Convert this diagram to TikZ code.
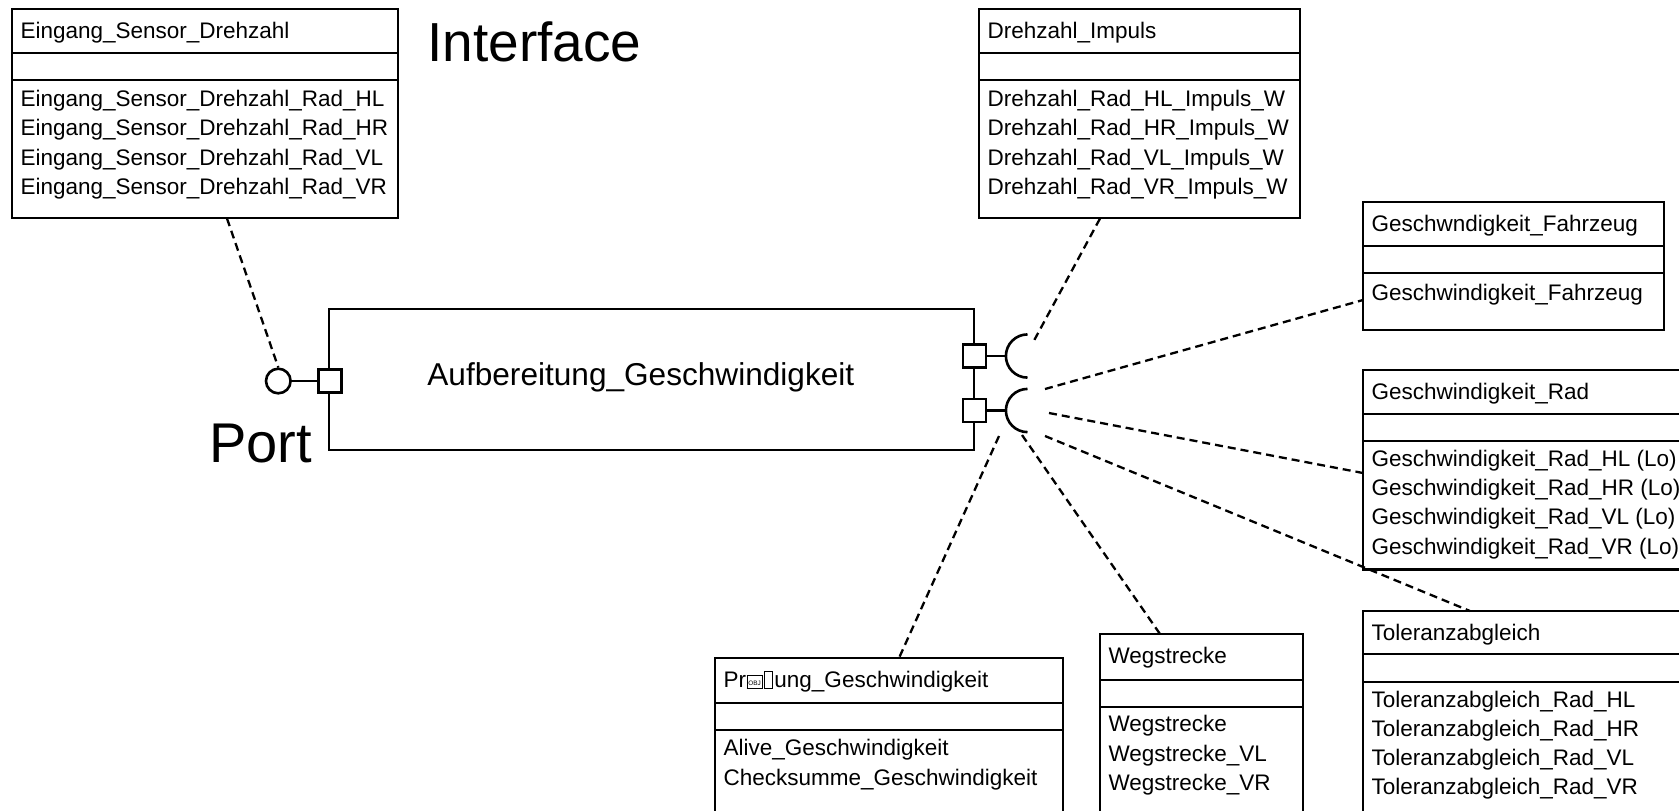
\documentclass[tikz,border=0pt]{standalone}
\usepackage{fontspec}
\setmainfont{Liberation Sans}
\newcommand\objglyph{{\fboxsep=0.6pt\fboxrule=0.3pt\hspace{0.3pt}\raisebox{1pt}{\fbox{\rule[-0.6pt]{0pt}{5pt}\fontsize{3.2}{3.5}\selectfont OBJ}}}}
\newcommand\tofu{{\fboxsep=0pt\fboxrule=0.4pt\hspace{0.8pt}\fbox{\rule{0pt}{7.8pt}\hspace{3.4pt}}\hspace{0.9pt}}}
\newcommand\ClassBox[8]{% name, x1, y1, x2, y2, line1, line2, title
  \node[cls, minimum width={0.5pt*(#4-#2)}, minimum height={0.5pt*(#5-#3)}] (#1) at (#2,#3) {};
  \draw[lw] (#2,#6) -- (#4,#6) (#2,#7) -- (#4,#7);
  \node[txt] (#1-title) at (#2+8.5,#3+29.5) {#8};
}
\tikzset{
  lw/.style={line width=1.3pt},
  cls/.style={draw, line width=1.3pt, anchor=north west, inner sep=0pt, outer sep=0pt},
  txt/.style={anchor=base west, inner sep=0pt, outer sep=0pt, font=\fontsize{11.25}{13}\selectfont},
  link/.style={line width=1.15pt, dash pattern=on 4pt off 2.5pt},
  portsq/.style={draw, line width=1.3pt, minimum size=11.5pt, inner sep=0pt, fill=white},
}
\begin{document}
\begin{tikzpicture}[x=0.5pt, y=-0.5pt]
\useasboundingbox (0,0) rectangle (1679,810);
\clip (0,0) rectangle (1679,810);

% interface classes
\ClassBox{ein}{12}{9}{398}{218}{53}{80}{Eingang\_Sensor\_Drehzahl}
\foreach \t [count=\i] in {Eingang\_Sensor\_Drehzahl\_Rad\_HL, Eingang\_Sensor\_Drehzahl\_Rad\_HR, Eingang\_Sensor\_Drehzahl\_Rad\_VL, Eingang\_Sensor\_Drehzahl\_Rad\_VR}
  \node[txt] (ein-r\i) at (20.5,{106.5+29.3*(\i-1)}) {\t};

\ClassBox{dreh}{979}{9}{1300}{218}{53}{80}{Drehzahl\_Impuls}
\foreach \t [count=\i] in {Drehzahl\_Rad\_HL\_Impuls\_W, Drehzahl\_Rad\_HR\_Impuls\_W, Drehzahl\_Rad\_VL\_Impuls\_W, Drehzahl\_Rad\_VR\_Impuls\_W}
  \node[txt] (dreh-r\i) at (987.5,{106.5+29.3*(\i-1)}) {\t};

\ClassBox{fzg}{1363}{202}{1664}{330}{246}{273}{Geschwndigkeit\_Fahrzeug}
\node[txt] (fzg-r1) at (1371.5,300) {Geschwindigkeit\_Fahrzeug};

\ClassBox{rad}{1363}{370}{1720}{569.5}{414}{441}{Geschwindigkeit\_Rad}
\foreach \t [count=\i] in {Geschwindigkeit\_Rad\_HL (Lo), Geschwindigkeit\_Rad\_HR (Lo), Geschwindigkeit\_Rad\_VL (Lo), Geschwindigkeit\_Rad\_VR (Lo)}
  \node[txt] (rad-r\i) at (1371.5,{466.5+29.2*(\i-1)}) {\t};

\ClassBox{tol}{1363}{611}{1720}{860}{654}{682}{Toleranzabgleich}
\foreach \t [count=\i] in {Toleranzabgleich\_Rad\_HL, Toleranzabgleich\_Rad\_HR, Toleranzabgleich\_Rad\_VL, Toleranzabgleich\_Rad\_VR}
  \node[txt] (tol-r\i) at (1371.5,{707+29.3*(\i-1)}) {\t};

\ClassBox{pruef}{715}{658}{1063}{860}{703}{730}{Pr\objglyph\tofu ung\_Geschwindigkeit}
\foreach \t [count=\i] in {Alive\_Geschwindigkeit, Checksumme\_Geschwindigkeit}
  \node[txt] (pruef-r\i) at (723.5,{755.5+29.5*(\i-1)}) {\t};

\ClassBox{weg}{1100}{634}{1303}{860}{680}{707}{Wegstrecke}
\foreach \t [count=\i] in {Wegstrecke, Wegstrecke\_VL, Wegstrecke\_VR}
  \node[txt] (weg-r\i) at (1108.5,{731.5+29.5*(\i-1)}) {\t};

% labels
\node[anchor=base west, inner sep=0pt, font=\fontsize{27.5}{30}\selectfont] (iflabel) at (427,61.7) {Interface};
\node[anchor=base west, inner sep=0pt, font=\fontsize{28}{30}\selectfont] (portlabel) at (209,462) {Port};

% component
\node[cls, minimum width={0.5pt*(974-329)}, minimum height={0.5pt*(450-309)}] (comp) at (329,309) {};
\node[anchor=base west, inner sep=0pt, font=\fontsize{15.8}{18}\selectfont] (compname) at (427,385) {Aufbereitung\_Geschwindigkeit};

% ports
\node[portsq] (pL) at (330,381) {};
\node[portsq] (pR1) at (974.5,356) {};
\node[portsq] (pR2) at (974.5,410.5) {};
\node[draw, circle, line width=1.3pt, minimum size=12.3pt, inner sep=0pt] (lolly) at (278.3,381) {};
\draw[lw] (lolly.east) -- (pL.west);

% sockets
\coordinate (sock1) at (1027.5,356);
\coordinate (sock2) at (1027.5,410.5);
\draw[lw] (pR1.east) -- ([xshift=-10.8pt]sock1);
\draw[lw] (pR2.east) -- ([xshift=-10.8pt]sock2);
\draw[lw] ([yshift=10.8pt]sock1) arc[start angle=90, end angle=270, radius=10.8pt];
\draw[lw] ([yshift=10.8pt]sock2) arc[start angle=90, end angle=270, radius=10.8pt];

% connector end points
\coordinate (ein-a) at (227,218.5);
\coordinate (dreh-a) at (1100,218.5);
\coordinate (fzg-a) at (1363,300);
\coordinate (rad-a) at (1363,473);
\coordinate (tol-a) at (1470,611);
\coordinate (weg-a) at (1160,634);
\coordinate (pruef-a) at (899,658);
\coordinate (s1-a) at (1034.3,340);
\coordinate (s2-fzg) at (1045,389);
\coordinate (s2-rad) at (1049,413);
\coordinate (s2-tol) at (1045,436);
\coordinate (s2-weg) at (1022,435);
\coordinate (s2-pruef) at (999,436);

\draw[link] (ein-a) -- (lolly.north);
\draw[link] (dreh-a) -- (s1-a);
\draw[link] (s2-fzg) -- (fzg-a);
\draw[link] (s2-rad) -- (rad-a);
\draw[link] (s2-tol) -- (tol-a);
\draw[link] (s2-weg) -- (weg-a);
\draw[link] (s2-pruef) -- (pruef-a);
\end{tikzpicture}
\end{document}
